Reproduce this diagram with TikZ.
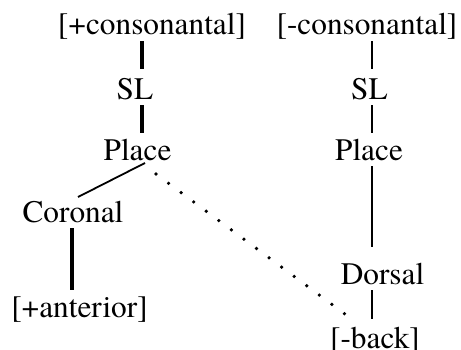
\documentclass[tikz,border=0pt]{standalone}
\usepackage{fontspec}
\setmainfont{texgyretermes-regular.otf}

\begin{document}
\begin{tikzpicture}
    [x=1pt,y=1pt,
     every node/.style={anchor=base,inner xsep=0pt,inner ysep=6pt,
       text height=21pt,text depth=0pt,font=\fontsize{31.3}{36}\selectfont},
     stemL/.style={line width=3.2pt},
     stemR/.style={line width=2.6pt},
     dotline/.style={line width=3.6pt,line cap=round,dash pattern=on 0pt off 15.64pt}]
    \useasboundingbox (0,0) rectangle (461,349);

    \node (ncp) at (152,314)   {[+consonantal]};
    \node (nsl1) at (135,250)  {SL};
    \node (npl1) at (137.5,189) {Place};
    \node (ncor) at (73,127)   {Coronal};
    \node (nant) at (79.5,32)  {[+anterior]};

    \node (ncm) at (367,314)   {[-consonantal]};
    \node (nsl2) at (369.5,250) {SL};
    \node (npl2) at (369,189)  {Place};
    \node (ndor) at (382.5,65) {Dorsal};
    \node (nback) at (375,1)   {[-back]};

    \coordinate (xl) at (142,0);
    \coordinate (xr) at (372,0);
    \coordinate (xc) at (72,0);

    \draw[stemL,shorten >=3pt] (ncp.south -| xl) -- (nsl1.north -| xl);
    \draw[stemL] (nsl1.south -| xl) -- (npl1.north -| xl);
    \draw[line width=1.8pt] ([shift={(7.5,-3)}]npl1.base) -- ([shift={(5,25)}]ncor.base);
    \draw[stemL] (ncor.south -| xc) -- (nant.north -| xc);

    \draw[stemR,shorten >=3pt] (ncm.south -| xr) -- (nsl2.north -| xr);
    \draw[stemR] (nsl2.south -| xr) -- (npl2.north -| xr);
    \draw[stemR,shorten >=10pt] (npl2.south -| xr) -- (ndor.north -| xr);
    \draw[stemR,shorten >=2pt] (ndor.south -| xr) -- (nback.north -| xr);

    \draw[dotline] ([shift={(18.5,-14)}]npl1.base) -- ([shift={(-18,25)}]nback.base);

\end{tikzpicture}
\end{document}
